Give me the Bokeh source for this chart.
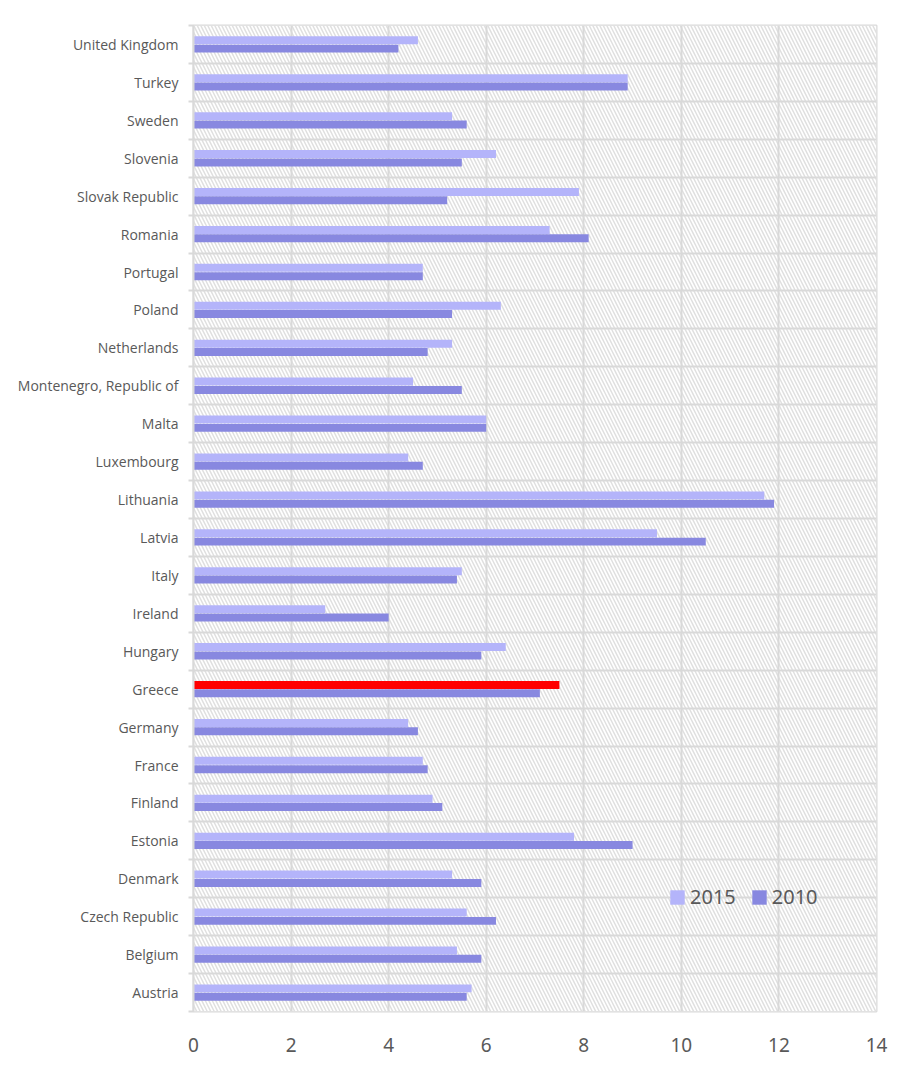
from bokeh.plotting import figure
from bokeh.models import ColumnDataSource, FixedTicker, Legend, LegendItem
from bokeh.embed import file_html
from bokeh.resources import INLINE

countries = ["Austria", "Belgium", "Czech Republic", "Denmark", "Estonia", "Finland",
             "France", "Germany", "Greece", "Hungary", "Ireland", "Italy", "Latvia",
             "Lithuania", "Luxembourg", "Malta", "Montenegro, Republic of", "Netherlands",
             "Poland", "Portugal", "Romania", "Slovak Republic", "Slovenia", "Sweden",
             "Turkey", "United Kingdom"]
v2015 = [5.7, 5.4, 5.6, 5.3, 7.8, 4.9, 4.7, 4.4, 7.5, 6.4, 2.7, 5.5, 9.5,
         11.7, 4.4, 6.0, 4.5, 5.3, 6.3, 4.7, 7.3, 7.9, 6.2, 5.3, 8.9, 4.6]
v2010 = [5.6, 5.9, 6.2, 5.9, 9.0, 5.1, 4.8, 4.6, 7.1, 5.9, 4.0, 5.4, 10.5,
         11.9, 4.7, 6.0, 5.5, 4.8, 5.3, 4.7, 8.1, 5.2, 5.5, 5.6, 8.9, 4.2]
highlight = "Greece"
x_ticks = [0, 2, 4, 6, 8, 10, 12, 14]

C15 = "#b4b4fa"
C10 = "#8888e0"
GRID = "#d9d9d9"
TXT = "#595959"

n = len(countries)
idx = list(range(n))
col15 = ["#ff0000" if c == highlight else C15 for c in countries]
src = ColumnDataSource(dict(
    y=idx,
    y15=[i + 0.11 for i in idx],
    y10=[i - 0.11 for i in idx],
    v15=v2015, v10=v2010, c15=col15,
))

p = figure(width=899, height=1068, x_range=(0, 14), y_range=(-0.5, n - 0.5),
           output_backend="svg", toolbar_location=None,
           min_border_left=193, min_border_right=23, min_border_top=25, min_border_bottom=57)
p.background_fill_color = "white"
p.border_fill_color = "white"
p.outline_line_color = GRID
p.outline_line_width = 2

# hatched plot background
p.quad(left=[0], right=[14], bottom=[-0.5], top=[n - 0.5], fill_color="white", line_color=None,
       hatch_pattern="left_diagonal_line", hatch_color="#e0e0e0", hatch_scale=7, hatch_weight=1.5,
       level="underlay")

r15 = p.hbar(y="y15", right="v15", left=0, height=0.21, source=src,
             fill_color="c15", line_color=None)
r10 = p.hbar(y="y10", right="v10", left=0, height=0.21, source=src,
             fill_color=C10, line_color=None)

# grids
p.xgrid.ticker = FixedTicker(ticks=x_ticks)
p.xgrid.grid_line_color = GRID
p.xgrid.grid_line_width = 2
p.xgrid.level = "underlay"
p.ygrid.ticker = FixedTicker(ticks=[i - 0.5 for i in range(n + 1)])
p.ygrid.grid_line_color = GRID
p.ygrid.grid_line_width = 2
p.ygrid.level = "underlay"

# axes
p.xaxis.ticker = FixedTicker(ticks=x_ticks)
p.xaxis.axis_line_color = None
p.xaxis.major_tick_line_color = None
p.xaxis.minor_tick_line_color = None
p.xaxis.major_label_text_font = "Noto Sans"
p.xaxis.major_label_text_font_size = "19px"
p.xaxis.major_label_text_color = TXT
p.xaxis.major_label_standoff = 20

p.yaxis.ticker = FixedTicker(ticks=idx, minor_ticks=[i - 0.5 for i in range(n + 1)])
p.yaxis.major_label_overrides = {i: c for i, c in enumerate(countries)}
p.yaxis.axis_line_color = GRID
p.yaxis.axis_line_width = 2
p.yaxis.major_tick_line_color = None
p.yaxis.minor_tick_line_color = GRID
p.yaxis.minor_tick_line_width = 2
p.yaxis.minor_tick_out = 5
p.yaxis.minor_tick_in = 0
p.yaxis.major_label_text_font = "Open Sans"
p.yaxis.major_label_text_font_size = "14px"
p.yaxis.major_label_text_color = TXT
p.yaxis.major_label_standoff = 9

legend = Legend(items=[LegendItem(label="2015", renderers=[r15], index=0),
                       LegendItem(label="2010", renderers=[r10], index=0)],
                orientation="horizontal", location=(475, 101),
                glyph_width=18, glyph_height=18, label_text_font="Noto Sans",
                label_text_font_size="20px", label_text_color=TXT,
                border_line_color=None, background_fill_alpha=0,
                padding=2, spacing=14, label_standoff=4, margin=0)
p.add_layout(legend)

open("out.html", "w").write(file_html(p, INLINE))
